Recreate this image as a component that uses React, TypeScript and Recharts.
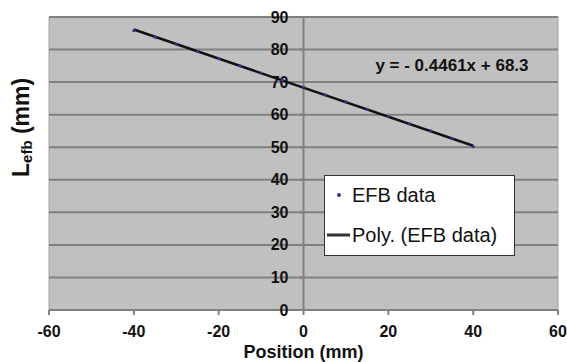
import React from 'react'
import {
  ScatterChart, Scatter, XAxis, YAxis, CartesianGrid,
  ReferenceLine, ReferenceDot, ReferenceArea, Legend, Label
} from 'recharts'

// measured EFB length along the position axis
const positions = [-40, -35, -30, -25, -20, -15, -10, -5, 0, 5, 10, 15, 20, 25, 30, 35, 40]
const efbValues = [85.8, 83.8, 81.6, 79.4, 77.2, 75.0, 72.8, 70.6, 68.4, 66.1, 63.9, 61.6, 59.4, 57.2, 55.0, 52.6, 50.2]

const xTicks = [-60, -40, -20, 0, 20, 40, 60]
const yTicks = [0, 10, 20, 30, 40, 50, 60, 70, 80, 90]

// fitted trend: y = -0.4461x + 68.3
const trendSlope = -0.4461
const trendIntercept = 68.3
const trendRange = [-40, 40]

const efbData = positions.map((x, i) => ({ x, y: efbValues[i] }))
const trendData = trendRange.map(x => ({ x, y: trendSlope * x + trendIntercept }))

const FONT = 'Arial, "Liberation Sans", sans-serif'
const TEXT = '#111'
const GRID = '#808080'

const YTick = (value: number) => (p: any) => (
  <g>
    <line x1={p.cx - 5} x2={p.cx} y1={p.cy} y2={p.cy} stroke={GRID} strokeWidth={2} />
    <text
      x={p.cx - 15} y={p.cy} textAnchor="end" dominantBaseline="central"
      fontFamily={FONT} fontWeight="bold" fontSize={16} fill={TEXT}
    >
      {value}
    </text>
  </g>
)

const EquationLabel = (p: any) => (
  <text
    x={p.cx} y={p.cy} textAnchor="middle" dominantBaseline="central"
    fontFamily={FONT} fontWeight="bold" fontSize={17} fill={TEXT}
  >
    y = - 0.4461x + 68.3
  </text>
)

const LegendBox = () => (
  <svg width={191} height={81} style={{ display: 'block' }}>
    <rect x={0.5} y={0.5} width={190} height={80} fill="#fff" stroke="#333" />
    <circle cx={15} cy={20} r={2} fill="#333399" />
    <text x={28} y={27} fontFamily={FONT} fontSize={20} fill={TEXT}>EFB data</text>
    <line x1={3} x2={26} y1={60} y2={60} stroke="#333" strokeWidth={3} />
    <text x={28} y={67} fontFamily={FONT} fontSize={20} fill={TEXT}>Poly. (EFB data)</text>
  </svg>
)

export default function App() {
  return (
    <div style={{ position: 'absolute', left: 0, top: 0, background: '#fff' }}>
      <ScatterChart width={567} height={362} margin={{ top: 17, right: 9, bottom: 0, left: 0 }}>
        <CartesianGrid vertical={false} horizontal={false} fill="#c0c0c0" />
        <ReferenceArea x1={-60} x2={60} y1={0} y2={90} fill="none" stroke="#a4a4a4" strokeWidth={1} />
        {yTicks.map(v => (
          <ReferenceLine key={`g${v}`} y={v} stroke={GRID} strokeWidth={2} />
        ))}
        <XAxis
          type="number"
          dataKey="x"
          domain={[-60, 60]}
          ticks={xTicks}
          height={52}
          axisLine={{ stroke: GRID, strokeWidth: 2 }}
          tickLine={{ stroke: GRID, strokeWidth: 2 }}
          tickSize={5}
          tickMargin={11}
          tick={{ fontFamily: FONT, fontWeight: 'bold', fontSize: 16, fill: TEXT }}
        >
          <Label
            content={({ viewBox }: any) => (
              <text
                x={viewBox.x + viewBox.width / 2} y={viewBox.y + 48} textAnchor="middle"
                fontFamily={FONT} fontWeight="bold" fontSize={18} fill={TEXT}
              >
                Position (mm)
              </text>
            )}
          />
        </XAxis>
        <YAxis
          type="number"
          dataKey="y"
          domain={[0, 90]}
          ticks={yTicks}
          width={49}
          axisLine={false}
          tickLine={false}
          tick={false}
        >
          <Label
            content={({ viewBox }: any) => (
              <text
                transform={`translate(${viewBox.x + 29}, ${viewBox.y + 160}) rotate(-90)`}
                textAnchor="start"
                fontFamily={FONT} fontWeight="bold" fontSize={23} fill={TEXT}
              >
                L<tspan fontSize={15} dy={3}>efb</tspan><tspan dy={-3}> (mm)</tspan>
              </text>
            )}
          />
        </YAxis>
        <ReferenceLine x={0} stroke={GRID} strokeWidth={2} />
        {yTicks.map(v => (
          <ReferenceDot key={v} x={0} y={v} r={0} shape={YTick(v)} />
        ))}
        <ReferenceDot x={35} y={75} r={0} shape={EquationLabel} />
        <Scatter
          name="Poly. (EFB data)"
          data={trendData}
          line={{ stroke: '#111', strokeWidth: 2.5 }}
          shape={() => <g />}
          isAnimationActive={false}
        />
        <Scatter
          name="EFB data"
          data={efbData}
          shape={(p: any) => <circle cx={p.cx} cy={p.cy} r={1.6} fill="#333399" />}
          isAnimationActive={false}
        />
        <Legend
          layout="vertical"
          align="center"
          verticalAlign="middle"
          content={LegendBox}
          wrapperStyle={{ position: 'absolute', left: 324, top: 175, width: 191, height: 81 }}
        />
      </ScatterChart>
    </div>
  )
}
